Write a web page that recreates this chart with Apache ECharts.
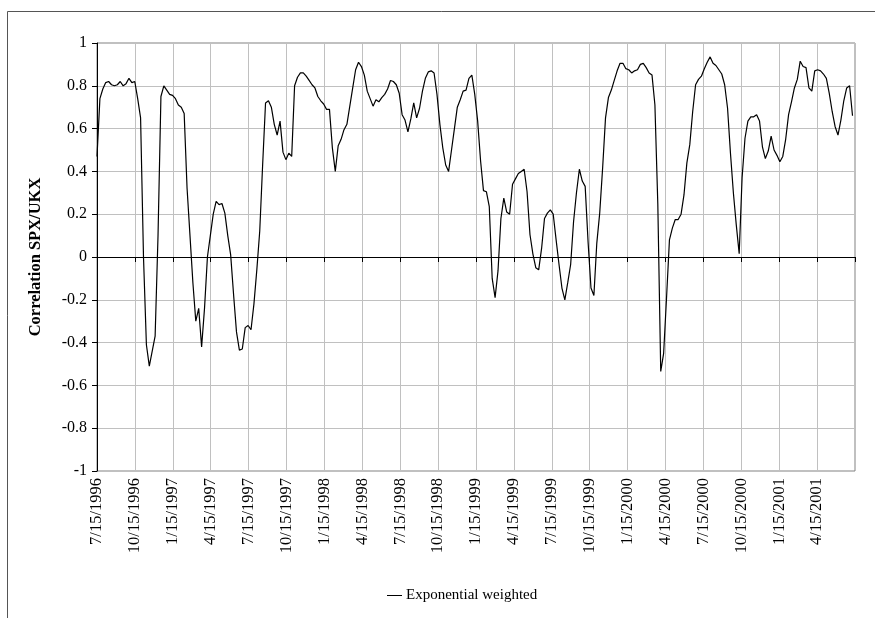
<!DOCTYPE html>
<html><head><meta charset="utf-8">
<script src="https://cdn.jsdelivr.net/npm/echarts@6/dist/echarts.min.js"></script>
<style>html,body{margin:0;padding:0;background:#fff}#chart{width:875px;height:618px}</style>
</head><body><div id="chart"></div>
<script>
// Quarterly tick labels of the date axis (last one is the unlabeled axis end)
const quarterLabels = ['7/15/1996','10/15/1996','1/15/1997','4/15/1997','7/15/1997','10/15/1997',
  '1/15/1998','4/15/1998','7/15/1998','10/15/1998','1/15/1999','4/15/1999','7/15/1999','10/15/1999',
  '1/15/2000','4/15/2000','7/15/2000','10/15/2000','1/15/2001','4/15/2001',''];
const seriesName = 'Exponential weighted';
const yAxisTitle = 'Correlation SPX/UKX';
// Weekly observations, first one on 7/15/1996
const startYear = 1996, startMonth = 6, startDay = 15;
const weekly1996 = [0.47,0.74,0.785,0.815,0.82,0.805,0.80,0.805,0.82,0.80,0.81,0.835,0.815,0.82,0.74,0.65,0.0,-0.41,-0.51,-0.44,-0.37,0.1,0.75,0.80,0.78];
const weekly1997 = [0.76,0.755,0.74,0.71,0.70,0.67,0.32,0.10,-0.12,-0.30,-0.24,-0.42,-0.24,0.0,0.10,0.20,0.26,0.245,0.25,0.205,0.10,0.01,-0.175,-0.35,-0.435,-0.43,-0.33,-0.32,-0.34,-0.22,-0.06,0.12,0.43,0.72,0.73,0.70,0.62,0.57,0.635,0.49,0.455,0.485,0.47,0.80,0.84,0.86,0.86,0.845,0.825,0.805,0.79,0.75];
const weekly1998 = [0.73,0.715,0.69,0.69,0.51,0.40,0.52,0.55,0.595,0.62,0.705,0.79,0.875,0.91,0.89,0.85,0.775,0.74,0.705,0.735,0.725,0.745,0.76,0.785,0.825,0.82,0.805,0.765,0.665,0.64,0.585,0.645,0.72,0.65,0.695,0.775,0.835,0.865,0.87,0.86,0.76,0.62,0.51,0.43,0.40,0.50,0.60,0.70,0.735,0.775,0.78,0.835];
const weekly1999 = [0.85,0.76,0.635,0.45,0.31,0.305,0.235,-0.10,-0.19,-0.065,0.18,0.275,0.21,0.20,0.34,0.365,0.39,0.40,0.41,0.305,0.105,0.015,-0.05,-0.06,0.04,0.18,0.205,0.22,0.20,0.08,-0.035,-0.145,-0.2,-0.12,-0.035,0.165,0.30,0.41,0.355,0.33,0.07,-0.145,-0.18,0.065,0.205,0.415,0.65,0.745,0.78,0.825,0.87,0.905];
const weekly2000 = [0.905,0.88,0.875,0.86,0.87,0.875,0.90,0.905,0.885,0.86,0.85,0.71,0.245,-0.535,-0.45,-0.19,0.08,0.135,0.175,0.175,0.20,0.29,0.44,0.525,0.68,0.805,0.83,0.845,0.88,0.91,0.935,0.905,0.895,0.875,0.855,0.805,0.695,0.485,0.30,0.15,0.015,0.37,0.555,0.635,0.655,0.655,0.665,0.635,0.515,0.46,0.495,0.565];
const weekly2001 = [0.50,0.475,0.445,0.47,0.55,0.665,0.725,0.79,0.83,0.915,0.89,0.885,0.79,0.775,0.87,0.875,0.87,0.855,0.835,0.765,0.68,0.61,0.57,0.64,0.73,0.79,0.80,0.66];

const values = [].concat(weekly1996, weekly1997, weekly1998, weekly1999, weekly2000, weekly2001);
const seriesData = values.map((v, i) => [Date.UTC(startYear, startMonth, startDay + 7 * i), v]);
const xMin = Date.UTC(1996, 6, 15), xMax = Date.UTC(2001, 6, 15);

const FONT = 'Liberation Serif';
const chart = echarts.init(document.getElementById('chart'), null, {renderer: 'canvas'});
chart.setOption({
  animation: false,
  backgroundColor: '#fff',
  textStyle: {fontFamily: FONT, color: '#000'},
  graphic: [{
    type: 'rect', shape: {x: 7.5, y: 11.5, width: 900, height: 700},
    style: {fill: 'none', stroke: '#555', lineWidth: 1}, silent: true, z: -1
  }],
  grid: {left: 97, top: 43, right: 20, bottom: 147, show: true, borderColor: '#808080', borderWidth: 1, backgroundColor: 'transparent'},
  legend: {
    data: [seriesName], left: 382, top: 583, icon: 'rect', itemWidth: 15, itemHeight: 1, itemGap: 5,
    textStyle: {fontFamily: FONT, fontSize: 15, color: '#000', padding: [0, 0, 0, -1]}
  },
  xAxis: [
    { type: 'category', data: quarterLabels, boundaryGap: false, position: 'bottom',
      axisLine: {show: false, onZero: false}, axisTick: {show: false},
      axisLabel: {rotate: 90, margin: 7, fontFamily: FONT, fontSize: 16.5, color: '#000', interval: 0},
      splitLine: {show: true, lineStyle: {color: '#c0c0c0', width: 1}} },
    { type: 'time', min: xMin, max: xMax, show: false, position: 'bottom',
      axisLine: {onZero: false}, splitLine: {show: false} },
    { type: 'category', data: quarterLabels, boundaryGap: false, position: 'bottom',
      axisLine: {show: true, onZero: true, lineStyle: {color: '#000', width: 1}},
      axisTick: {show: true, length: 5, interval: 0, lineStyle: {color: '#000'}},
      axisLabel: {show: false}, splitLine: {show: false} }
  ],
  yAxis: {
    type: 'value', min: -1, max: 1, interval: 0.2,
    name: yAxisTitle, nameLocation: 'middle', nameGap: 53,
    nameTextStyle: {fontFamily: FONT, fontSize: 16.5, fontWeight: 'bold', color: '#000'},
    axisLine: {show: true, onZero: false, lineStyle: {color: '#000', width: 1}},
    axisTick: {show: true, length: 5, lineStyle: {color: '#000'}},
    axisLabel: {margin: 10, fontFamily: FONT, fontSize: 16, color: '#000',
      formatter: v => String(Math.round(v * 10) / 10)},
    splitLine: {show: true, lineStyle: {color: '#c0c0c0', width: 1}}
  },
  series: [{
    name: seriesName, type: 'line', xAxisIndex: 1, data: seriesData,
    showSymbol: false, symbol: 'none', lineStyle: {color: '#000', width: 1.2}, itemStyle: {color: '#000'}
  }]
});
</script></body></html>
